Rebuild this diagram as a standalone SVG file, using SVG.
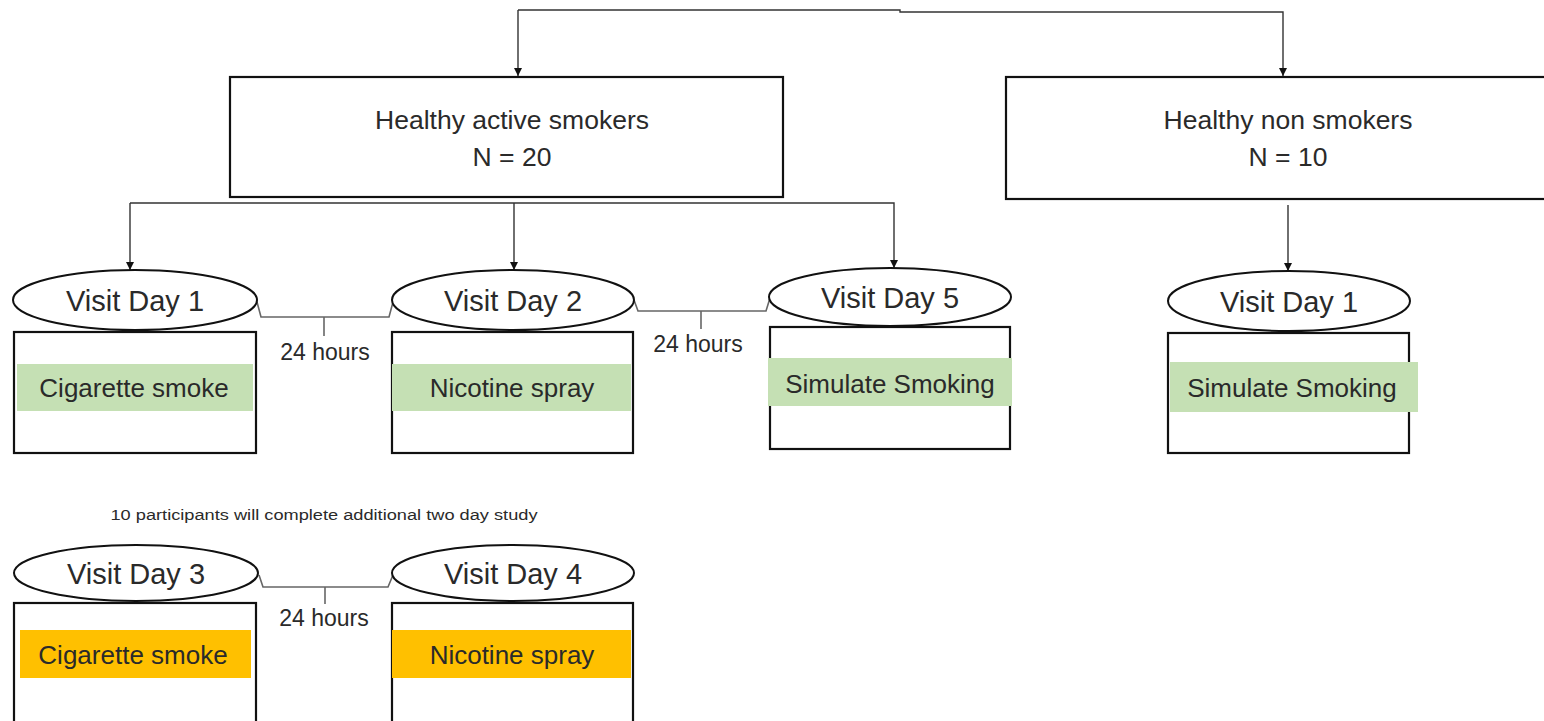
<svg xmlns="http://www.w3.org/2000/svg" width="1544" height="721" viewBox="0 0 1544 721">
<style>
.box{fill:#fff;stroke:#111;stroke-width:2.2}
.ell{fill:#fff;stroke:#111;stroke-width:2}
.ln{fill:none;stroke:#666;stroke-width:1.6}
.arr{fill:none;stroke:#333;stroke-width:1.4}
.t{font-family:"Liberation Sans",Arial,sans-serif;fill:#2a2a2a;text-anchor:middle}
.g{fill:#c5e0b4}
.o{fill:#ffc000}
</style>
<defs>
<marker id="down" markerWidth="10" markerHeight="10" refX="5" refY="9" orient="0" markerUnits="userSpaceOnUse" viewBox="0 0 10 10">
<path d="M1,1 L9,1 L5,9 Z" fill="#111"/>
</marker>
</defs>
<rect width="1544" height="721" fill="#fff"/>
<g id="connectors">
<path class="arr" d="M518,10 H900 V12 H1283 V76" marker-end="url(#down)"/>
<path class="arr" d="M518,10 V76" marker-end="url(#down)"/>
<path class="arr" d="M130,203 H894 V268" marker-end="url(#down)"/>
<path class="arr" d="M130,203 V270" marker-end="url(#down)"/>
<path class="arr" d="M514,203 V270" marker-end="url(#down)"/>
<path class="arr" d="M1288,205 V271" marker-end="url(#down)"/>
<path class="ln" d="M257,302 L261,317 H389 L393,302"/>
<path class="ln" d="M324,317 V336"/>
<path class="ln" d="M634,300 L638,311 H766 L770,298"/>
<path class="ln" d="M701,311 V329"/>
<path class="ln" d="M259,575 L263,587 H388 L393,575"/>
<path class="ln" d="M325,587 V604"/>
</g>
<g id="smokers">
<rect class="box" x="230" y="77" width="553" height="120"/>
<text class="t" x="512" y="129" font-size="26.5">Healthy active smokers</text>
<text class="t" x="512" y="166" font-size="26.5">N = 20</text>
</g>
<g id="nonsmokers">
<rect class="box" x="1006" y="77" width="545" height="122"/>
<text class="t" x="1288" y="129" font-size="26.5">Healthy non smokers</text>
<text class="t" x="1288" y="166" font-size="26.5">N = 10</text>
</g>
<g id="day1">
<rect class="box" x="14" y="332" width="242" height="121"/>
<rect class="g" x="17" y="364" width="236" height="47"/>
<text class="t" x="134" y="397" font-size="26">Cigarette smoke</text>
<ellipse class="ell" cx="135" cy="300" rx="122" ry="30"/>
<text class="t" x="135" y="311" font-size="29">Visit Day 1</text>
</g>
<g id="day2">
<rect class="box" x="392" y="332" width="241" height="121"/>
<rect class="g" x="392" y="364" width="239" height="47"/>
<text class="t" x="512" y="397" font-size="26">Nicotine spray</text>
<ellipse class="ell" cx="513" cy="300" rx="121" ry="30"/>
<text class="t" x="513" y="311" font-size="29">Visit Day 2</text>
</g>
<g id="day5">
<rect class="box" x="770" y="327" width="240" height="122"/>
<rect class="g" x="768" y="358" width="244" height="48"/>
<text class="t" x="890" y="393" font-size="26">Simulate Smoking</text>
<ellipse class="ell" cx="890" cy="297" rx="121" ry="29"/>
<text class="t" x="890" y="308" font-size="29">Visit Day 5</text>
</g>
<g id="nonday1">
<rect class="box" x="1168" y="333" width="241" height="120"/>
<rect class="g" x="1170" y="362" width="248" height="50"/>
<text class="t" x="1292" y="397" font-size="26">Simulate Smoking</text>
<ellipse class="ell" cx="1289" cy="301" rx="121" ry="30"/>
<text class="t" x="1289" y="312" font-size="29">Visit Day 1</text>
</g>
<g id="labels">
<text class="t" x="325" y="360" font-size="23">24 hours</text>
<text class="t" x="698" y="352" font-size="23">24 hours</text>
<text class="t" x="324" y="626" font-size="23">24 hours</text>
<text class="t" x="324" y="520" font-size="14" textLength="427" lengthAdjust="spacingAndGlyphs">10 participants will complete additional two day study</text>
</g>
<g id="day3">
<rect class="box" x="14" y="603" width="242" height="130"/>
<rect class="o" x="20" y="630" width="231" height="48"/>
<text class="t" x="133" y="664" font-size="26">Cigarette smoke</text>
<ellipse class="ell" cx="136" cy="573" rx="122" ry="28"/>
<text class="t" x="136" y="584" font-size="29">Visit Day 3</text>
</g>
<g id="day4">
<rect class="box" x="392" y="603" width="241" height="130"/>
<rect class="o" x="392" y="630" width="239" height="48"/>
<text class="t" x="512" y="664" font-size="26">Nicotine spray</text>
<ellipse class="ell" cx="513" cy="573" rx="121" ry="28"/>
<text class="t" x="513" y="584" font-size="29">Visit Day 4</text>
</g>
</svg>
